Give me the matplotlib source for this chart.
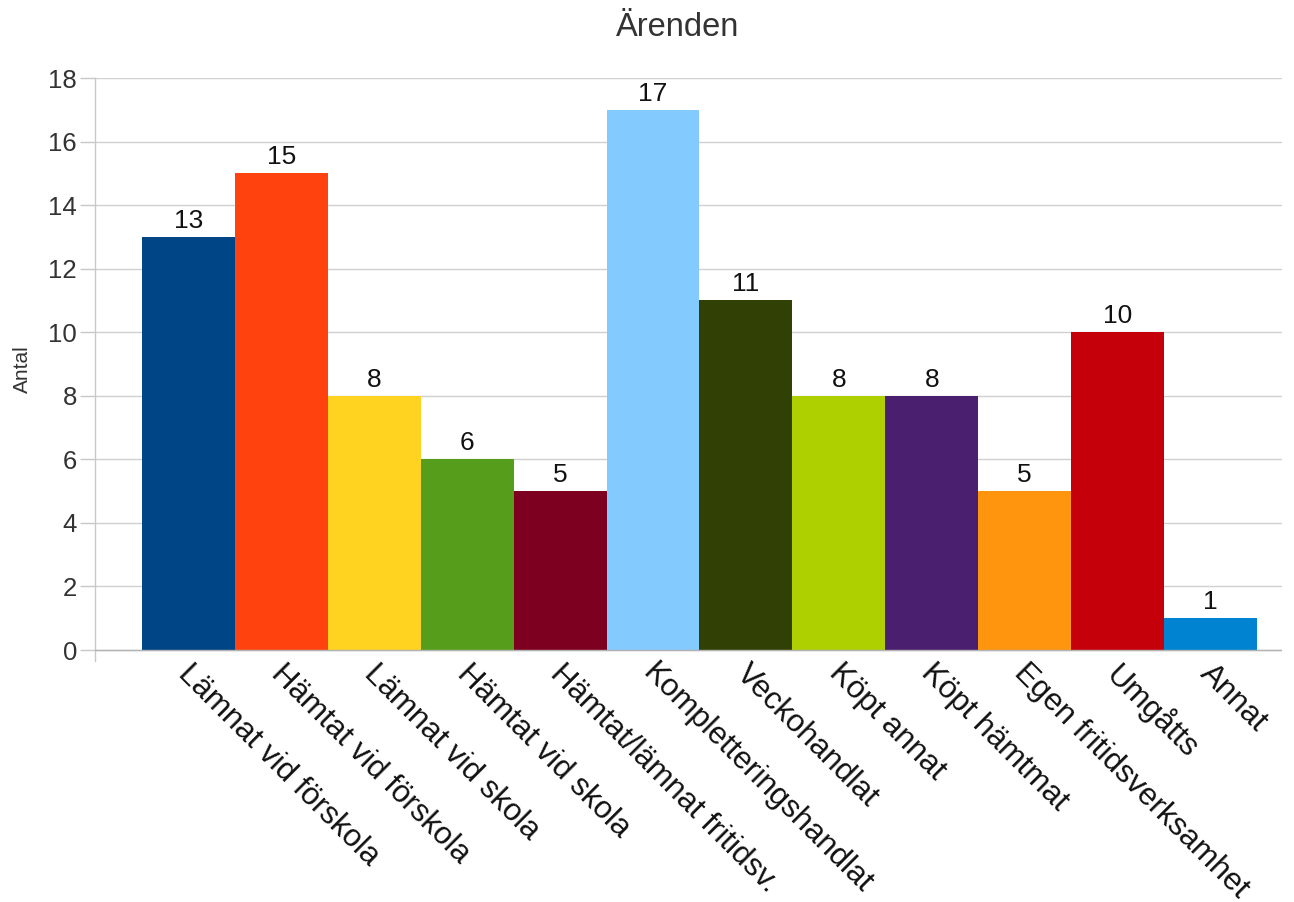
import matplotlib
matplotlib.use("Agg")
import matplotlib.pyplot as plt
from matplotlib import transforms

plt.rcParams['font.family'] = ['Liberation Sans', 'DejaVu Sans']

categories = ["Lämnat vid förskola", "Hämtat vid förskola", "Lämnat vid skola",
              "Hämtat vid skola", "Hämtat/lämnat fritidsv.", "Kompletteringshandlat",
              "Veckohandlat", "Köpt annat", "Köpt hämtmat", "Egen fritidsverksamhet",
              "Umgåtts", "Annat"]
values = [13, 15, 8, 6, 5, 17, 11, 8, 8, 5, 10, 1]
colors = ["#004586", "#ff420e", "#ffd320", "#579d1c", "#7e0021", "#83caff",
          "#314004", "#aecf00", "#4b1f6f", "#ff950e", "#c5000b", "#0084d1"]
yticks = [0, 2, 4, 6, 8, 10, 12, 14, 16, 18]

W, H = 1294, 902
fig = plt.figure(figsize=(W / 100, H / 100), dpi=100)
ax = fig.add_axes([95 / W, 1 - 660.5 / H, (1282 - 95) / W, (660.5 - 78) / H])

x = list(range(len(categories)))
ax.bar(x, values, width=1.0, color=colors, zorder=2)
ax.set_xlim(-1.005, 11.77)
ax.set_ylim(-0.33, 18)

ax.set_yticks(yticks)
ax.set_yticklabels([str(t) for t in yticks], fontsize=18.5, color="#333333")
ax.tick_params(axis='y', length=11, width=1, color="#c8c8c8", pad=2)
ax.grid(axis='y', color="#d0d0d0", linewidth=1, zorder=0)
ax.axhline(0, color="#b3b3b3", linewidth=1, zorder=3)

for s in ['top', 'right', 'bottom']:
    ax.spines[s].set_visible(False)
ax.spines['left'].set_color("#c8c8c8")
ax.spines['left'].set_linewidth(1)

ax.set_xticks(x)
ax.set_xticklabels(categories, rotation=-45, ha='left', va='top',
                   rotation_mode='anchor', fontsize=22.5, color="#111111")
ax.tick_params(axis='x', length=0, pad=2)
offset = transforms.ScaledTranslation(5 / 100, 5 / 100, fig.dpi_scale_trans)
for lbl in ax.get_xticklabels():
    lbl.set_transform(lbl.get_transform() + offset)

for xi, v in zip(x, values):
    ax.annotate(str(v), (xi, v), xytext=(0, 3), textcoords='offset points',
                ha='center', va='bottom', fontsize=19, color="#111111")

ax.set_ylabel("Antal", fontsize=15, color="#333333", labelpad=12)
fig.text(678 / W, 1 - 28 / H, "Ärenden", ha='center', va='center',
         fontsize=23.5, color="#333333")

fig.savefig("out.png", dpi=100)
